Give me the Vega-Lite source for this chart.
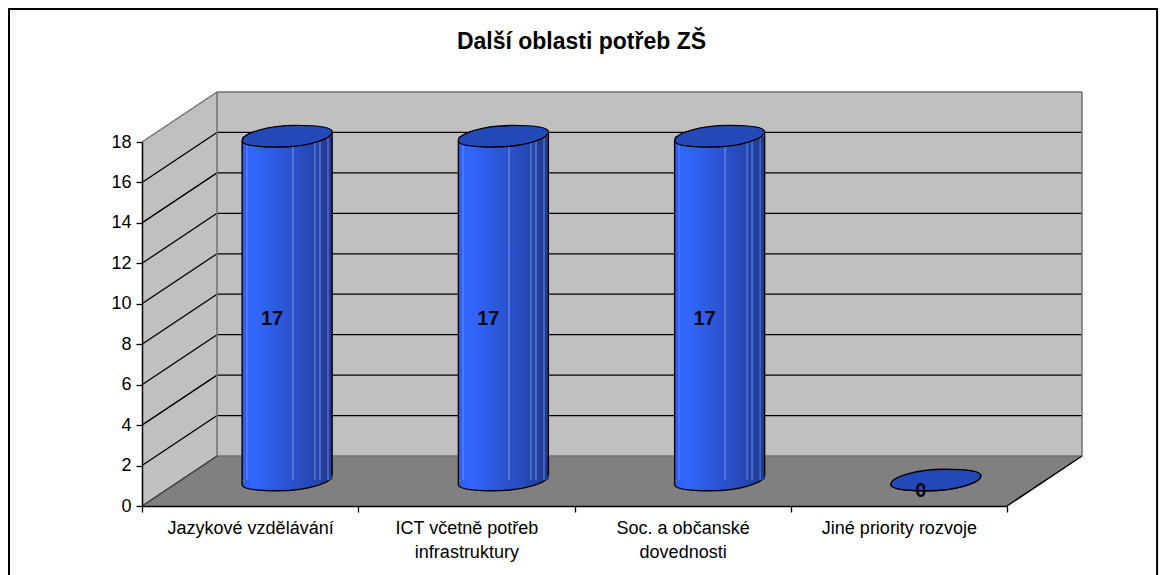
{
"$schema":"https://vega.github.io/schema/vega-lite/v6.json",
"width":865,"height":364,
"autosize":{"type":"none"},
"padding":{"left":142,"top":142,"right":158,"bottom":69},
"background":"white",
"view":{"stroke":null},
"title":{"text":"Další oblasti potřeb ZŠ","anchor":"middle","dx":7,"offset":-46,"font":"Liberation Sans","fontWeight":"bold","fontSize":23,"color":"black"},
"datasets":{
"bars":[
{"category":"Jazykové vzdělávání","value":17},
{"category":"ICT včetně potřeb infrastruktury","value":17},
{"category":"Soc. a občanské dovednosti","value":17},
{"category":"Jiné priority rozvoje","value":0}],
"grid":[{"v":2},{"v":4},{"v":6},{"v":8},{"v":10},{"v":12},{"v":14},{"v":16}],
"floor":[{"a":0,"b":4,"v":0},{"a":0.347,"b":4.347,"v":2.47}],
"side":[{"a":0,"lo":0,"hi":18},{"a":0.347,"lo":2.47,"hi":20.47}],
"frame":[{"a":-0.615,"b":4.694,"lo":-3.7,"hi":24.58}]
},
"resolve":{"scale":{"x":"independent"},"axis":{"x":"independent","y":"independent"}},
"layer":[
{"data":{"name":"side"},"mark":{"type":"area","color":"#c0c0c0"},
 "encoding":{"x":{"field":"a","type":"quantitative","axis":null,"scale":{"domain":[0,4]}},
 "y":{"field":"lo","type":"quantitative","axis":null,"scale":{"domain":[0,18]}},"y2":{"field":"hi"}}},
{"data":{"values":[{"a":0,"b":4,"lo":0,"hi":18}]},"mark":{"type":"rect","color":"#c0c0c0","xOffset":75,"x2Offset":75,"yOffset":-50,"y2Offset":-50},
 "encoding":{"x":{"field":"a","type":"quantitative","axis":null,"scale":{"domain":[0,4]}},"x2":{"field":"b"},
 "y":{"field":"lo","type":"quantitative","axis":null,"scale":{"domain":[0,18]}},"y2":{"field":"hi"}}},
{"data":{"name":"floor"},"mark":{"type":"area","orient":"horizontal","color":"#808080"},
 "encoding":{"x":{"field":"a","type":"quantitative","axis":null,"scale":{"domain":[0,4]}},"x2":{"field":"b"},
 "y":{"field":"v","type":"quantitative","axis":null,"scale":{"domain":[0,18]}}}},
{"data":{"name":"grid"},"mark":{"type":"rule","color":"black","strokeWidth":1.3,"xOffset":75,"x2Offset":75,"yOffset":-50,"y2Offset":-50},
 "encoding":{"x":{"datum":0,"type":"quantitative","axis":null,"scale":{"domain":[0,4]}},"x2":{"datum":4},
 "y":{"field":"v","type":"quantitative","axis":null,"scale":{"domain":[0,18]}},"y2":{"field":"v"}}},
{"data":{"name":"grid"},"mark":{"type":"rule","color":"black","strokeWidth":1.3,"x2Offset":75,"y2Offset":-50},
 "encoding":{"x":{"datum":0,"type":"quantitative","axis":null,"scale":{"domain":[0,4]}},"x2":{"datum":0},
 "y":{"field":"v","type":"quantitative","axis":null,"scale":{"domain":[0,18]}},"y2":{"field":"v"}}},
{"data":{"values":[{"lo":0,"hi":18}]},"mark":{"type":"rule","color":"#707070","strokeWidth":1.5,"xOffset":75,"x2Offset":75,"yOffset":-50,"y2Offset":-50},
 "encoding":{"x":{"datum":0,"type":"quantitative","axis":null,"scale":{"domain":[0,4]}},
 "y":{"field":"lo","type":"quantitative","axis":null,"scale":{"domain":[0,18]}},"y2":{"field":"hi"}}},
{"data":{"values":[{"lo":0,"hi":18}]},"mark":{"type":"rule","color":"#707070","strokeWidth":1.5,"xOffset":75,"x2Offset":75,"yOffset":-50,"y2Offset":-50},
 "encoding":{"x":{"datum":4,"type":"quantitative","axis":null,"scale":{"domain":[0,4]}},
 "y":{"field":"lo","type":"quantitative","axis":null,"scale":{"domain":[0,18]}},"y2":{"field":"hi"}}},
{"data":{"values":[{"v":0},{"v":18}]},"mark":{"type":"rule","color":"#707070","strokeWidth":1.5,"xOffset":75,"x2Offset":75,"yOffset":-50,"y2Offset":-50},
 "encoding":{"x":{"datum":0,"type":"quantitative","axis":null,"scale":{"domain":[0,4]}},"x2":{"datum":4},
 "y":{"field":"v","type":"quantitative","axis":null,"scale":{"domain":[0,18]}},"y2":{"field":"v"}}},
{"data":{"values":[{"v":18}]},"mark":{"type":"rule","color":"#707070","strokeWidth":1.5,"x2Offset":75,"y2Offset":-50},
 "encoding":{"x":{"datum":0,"type":"quantitative","axis":null,"scale":{"domain":[0,4]}},"x2":{"datum":0},
 "y":{"field":"v","type":"quantitative","axis":null,"scale":{"domain":[0,18]}},"y2":{"field":"v"}}},
{"data":{"values":[{"v":0}]},"mark":{"type":"rule","color":"#303030","strokeWidth":1.3,"x2Offset":75,"y2Offset":-50},
 "encoding":{"x":{"datum":0,"type":"quantitative","axis":null,"scale":{"domain":[0,4]}},"x2":{"datum":0},
 "y":{"field":"v","type":"quantitative","axis":null,"scale":{"domain":[0,18]}},"y2":{"field":"v"}}},
{"data":{"values":[{"v":0}]},"mark":{"type":"rule","color":"black","strokeWidth":1.5,"x2Offset":75,"y2Offset":-50},
 "encoding":{"x":{"datum":4,"type":"quantitative","axis":null,"scale":{"domain":[0,4]}},"x2":{"datum":4},
 "y":{"field":"v","type":"quantitative","axis":null,"scale":{"domain":[0,18]}},"y2":{"field":"v"}}},
{"data":{"name":"bars"},"mark":{"type":"point","filled":true,"opacity":1,"xOffset":37,"yOffset":-26,"size":8100,"strokeWidth":0,
 "fill":{"gradient":"linear","x1":0,"x2":1,"y1":0,"y2":0,"stops":[{"offset":0,"color":"#2a5ce6"},{"offset":0.12,"color":"#3366ff"},{"offset":0.55,"color":"#2a52cc"},{"offset":0.8,"color":"#2447b0"},{"offset":1,"color":"#1e3a96"}]},
 "shape":"M-1,0.1 C-1,-0.06 -0.45,-0.24 0.2,-0.24 C0.7,-0.24 1,-0.2 1,-0.1 C1,0.06 0.45,0.24 -0.2,0.24 C-0.7,0.24 -1,0.2 -1,0.1 Z"},
 "encoding":{"x":{"field":"category","type":"nominal","sort":null,"axis":null,"scale":{"type":"band","paddingInner":0,"paddingOuter":0}},
 "y":{"datum":0,"type":"quantitative","axis":null,"scale":{"domain":[0,18]}}}},
{"data":{"name":"bars"},"mark":{"type":"point","filled":false,"opacity":1,"xOffset":37,"yOffset":-26,"size":8100,"strokeWidth":1.4,"stroke":"black",
 "shape":"M-1,0.1 C-1,0.2 -0.7,0.24 -0.2,0.24 C0.45,0.24 1,0.06 1,-0.1"},
 "encoding":{"x":{"field":"category","type":"nominal","sort":null,"axis":null,"scale":{"type":"band","paddingInner":0,"paddingOuter":0}},
 "y":{"datum":0,"type":"quantitative","axis":null,"scale":{"domain":[0,18]}}}},
{"data":{"name":"bars"},"mark":{"type":"bar","width":90,"xOffset":37,"yOffset":-26,"y2Offset":-26,
 "fill":{"gradient":"linear","x1":0,"x2":1,"y1":0,"y2":0,"stops":[
 {"offset":0,"color":"#2a5ce6"},{"offset":0.04,"color":"#2f62f4"},{"offset":0.045,"color":"#4a78fa"},{"offset":0.06,"color":"#4a78fa"},{"offset":0.065,"color":"#3366ff"},{"offset":0.14,"color":"#3366ff"},
 {"offset":0.55,"color":"#2a52cc"},{"offset":0.555,"color":"#5578d8"},{"offset":0.57,"color":"#5578d8"},{"offset":0.575,"color":"#2a51ca"},
 {"offset":0.795,"color":"#2447b0"},{"offset":0.8,"color":"#4f6cc4"},{"offset":0.815,"color":"#4f6cc4"},{"offset":0.82,"color":"#2346ae"},
 {"offset":0.85,"color":"#2244a8"},{"offset":0.855,"color":"#4f6cc4"},{"offset":0.87,"color":"#4f6cc4"},{"offset":0.875,"color":"#2142a4"},
 {"offset":0.94,"color":"#1f3d9c"},{"offset":0.945,"color":"#4a62b0"},{"offset":0.96,"color":"#4a62b0"},{"offset":0.965,"color":"#1e3b98"},{"offset":1,"color":"#1e3a96"}]}},
 "encoding":{"x":{"field":"category","type":"nominal","sort":null,"title":null,"scale":{"type":"band","paddingInner":0,"paddingOuter":0},
  "axis":{"tickBand":"extent","zindex":1,"labelAngle":0,"labelFont":"Liberation Sans","labelFontSize":18,"labelColor":"black","labelPadding":7,"labelLineHeight":24,"tickSize":6,"tickColor":"black","tickWidth":1.3,"domainColor":"black","domainWidth":1.5,"labelLimit":300,"labelBaseline":"top",
  "labelExpr":"datum.value=='ICT včetně potřeb infrastruktury'?['ICT včetně potřeb','infrastruktury']:datum.value=='Soc. a občanské dovednosti'?['Soc. a občanské','dovednosti']:datum.value"}},
 "y":{"field":"value","type":"quantitative","stack":null,"title":null,"scale":{"domain":[0,18],"nice":false},
  "axis":{"values":[0,2,4,6,8,10,12,14,16,18],"grid":false,"zindex":1,"labelFont":"Liberation Sans","labelFontSize":18,"labelColor":"black","labelPadding":5,"tickSize":6,"tickColor":"black","tickWidth":1.3,"domainColor":"black","domainWidth":1.5}},
 "y2":{"datum":0}}},
{"data":{"name":"bars"},"mark":{"type":"rule","color":"black","strokeWidth":1.4,"xOffset":-8,"yOffset":-21.5,"y2Offset":-21.5},
 "encoding":{"x":{"field":"category","type":"nominal","sort":null,"axis":null,"scale":{"type":"band","paddingInner":0,"paddingOuter":0}},
 "y":{"field":"value","type":"quantitative","stack":null,"axis":null,"scale":{"domain":[0,18]}},"y2":{"datum":0}}},
{"data":{"name":"bars"},"mark":{"type":"rule","color":"black","strokeWidth":1.4,"xOffset":82,"yOffset":-30.5,"y2Offset":-30.5},
 "encoding":{"x":{"field":"category","type":"nominal","sort":null,"axis":null,"scale":{"type":"band","paddingInner":0,"paddingOuter":0}},
 "y":{"field":"value","type":"quantitative","stack":null,"axis":null,"scale":{"domain":[0,18]}},"y2":{"datum":0}}},
{"data":{"name":"bars"},"mark":{"type":"point","filled":true,"opacity":1,"xOffset":37,"yOffset":-26,"size":8100,"strokeWidth":1.4,"stroke":"black","fill":"#234ab8",
 "shape":"M-1,0.1 C-1,-0.06 -0.45,-0.24 0.2,-0.24 C0.7,-0.24 1,-0.2 1,-0.1 C1,0.06 0.45,0.24 -0.2,0.24 C-0.7,0.24 -1,0.2 -1,0.1 Z"},
 "encoding":{"x":{"field":"category","type":"nominal","sort":null,"axis":null,"scale":{"type":"band","paddingInner":0,"paddingOuter":0}},
 "y":{"field":"value","type":"quantitative","axis":null,"scale":{"domain":[0,18]}}}},
{"data":{"name":"bars"},"transform":[{"calculate":"datum.value/2","as":"mid"}],"mark":{"type":"text","font":"Liberation Sans","fontWeight":"bold","fontSize":20,"color":"#0a0a14","dx":22,"yOffset":-15,"baseline":"middle"},
 "encoding":{"x":{"field":"category","type":"nominal","sort":null,"axis":null,"scale":{"type":"band","paddingInner":0,"paddingOuter":0}},
 "y":{"field":"mid","type":"quantitative","axis":null,"scale":{"domain":[0,18]}},"text":{"field":"value","type":"quantitative"}}},
{"data":{"name":"frame"},"mark":{"type":"rect","fill":null,"stroke":"black","strokeWidth":2},
 "encoding":{"x":{"field":"a","type":"quantitative","axis":null,"scale":{"domain":[0,4]}},"x2":{"field":"b"},
 "y":{"field":"lo","type":"quantitative","axis":null,"scale":{"domain":[0,18]}},"y2":{"field":"hi"}}}
]
}
